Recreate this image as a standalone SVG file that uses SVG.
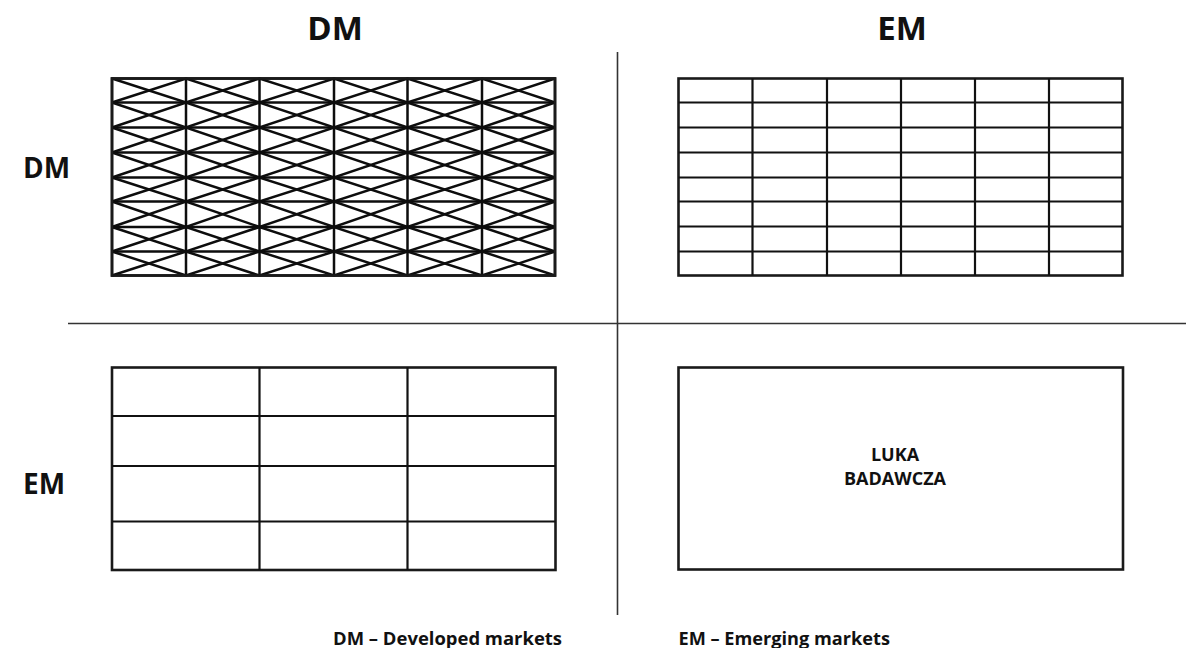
<svg xmlns="http://www.w3.org/2000/svg" width="1188" height="648" viewBox="0 0 1188 648">
  <style>
    .lbl { font-family: "Open Sans", "Liberation Sans", sans-serif; font-weight: 700; fill: #111; }
    .grid { fill: none; stroke: #111; stroke-width: 2.2; }
    .hatch { fill: none; stroke: #0d0d0d; stroke-width: 2.5; }
    .frame { fill: #fff; stroke: #1a1a1a; stroke-width: 2.6; }
    .axis { stroke: #333; stroke-width: 1.6; }
  </style>
  <rect width="1188" height="648" fill="#fff"/>

  <!-- quadrant axes -->
  <g id="axes">
    <line class="axis" x1="617.5" y1="52" x2="617.5" y2="615"/>
    <line class="axis" x1="68" y1="323.5" x2="1186" y2="323.5"/>
  </g>

  <!-- column and row headings -->
  <g id="headings">
    <text class="lbl" x="335" y="40" font-size="33" text-anchor="middle">DM</text>
    <text class="lbl" x="902" y="40" font-size="33" text-anchor="middle">EM</text>
    <text class="lbl" x="23" y="178" font-size="28">DM</text>
    <text class="lbl" x="23" y="494" font-size="28">EM</text>
  </g>

  <!-- DM x DM: dense cross-hatched grid -->
  <g id="dm-dm">
    <rect class="frame" x="112" y="78.5" width="443" height="197"/>
    <g class="hatch">
      <path d="M186 78.5V275.5M259.5 78.5V275.5M334 78.5V275.5M407.5 78.5V275.5M482 78.5V275.5"/>
      <path d="M112 102.5H555M112 127.5H555M112 152.5H555M112 177.5H555M112 201.5H555M112 227H555M112 251.5H555"/>
      <polyline points="112,78.5 186,102.5 259.5,78.5 334,102.5 407.5,78.5 482,102.5 555,78.5"/>
      <polyline points="112,102.5 186,78.5 259.5,102.5 334,78.5 407.5,102.5 482,78.5 555,102.5"/>
      <polyline points="112,102.5 186,127.5 259.5,102.5 334,127.5 407.5,102.5 482,127.5 555,102.5"/>
      <polyline points="112,127.5 186,102.5 259.5,127.5 334,102.5 407.5,127.5 482,102.5 555,127.5"/>
      <polyline points="112,127.5 186,152.5 259.5,127.5 334,152.5 407.5,127.5 482,152.5 555,127.5"/>
      <polyline points="112,152.5 186,127.5 259.5,152.5 334,127.5 407.5,152.5 482,127.5 555,152.5"/>
      <polyline points="112,152.5 186,177.5 259.5,152.5 334,177.5 407.5,152.5 482,177.5 555,152.5"/>
      <polyline points="112,177.5 186,152.5 259.5,177.5 334,152.5 407.5,177.5 482,152.5 555,177.5"/>
      <polyline points="112,177.5 186,201.5 259.5,177.5 334,201.5 407.5,177.5 482,201.5 555,177.5"/>
      <polyline points="112,201.5 186,177.5 259.5,201.5 334,177.5 407.5,201.5 482,177.5 555,201.5"/>
      <polyline points="112,201.5 186,227 259.5,201.5 334,227 407.5,201.5 482,227 555,201.5"/>
      <polyline points="112,227 186,201.5 259.5,227 334,201.5 407.5,227 482,201.5 555,227"/>
      <polyline points="112,227 186,251.5 259.5,227 334,251.5 407.5,227 482,251.5 555,227"/>
      <polyline points="112,251.5 186,227 259.5,251.5 334,227 407.5,251.5 482,227 555,251.5"/>
      <polyline points="112,251.5 186,275.5 259.5,251.5 334,275.5 407.5,251.5 482,275.5 555,251.5"/>
      <polyline points="112,275.5 186,251.5 259.5,275.5 334,251.5 407.5,275.5 482,251.5 555,275.5"/>
    </g>
    <rect x="112" y="78.5" width="443" height="197" fill="none" stroke="#1a1a1a" stroke-width="2.6"/>
  </g>

  <!-- DM x EM: plain 6 x 8 grid -->
  <g id="dm-em">
    <rect class="frame" x="678.5" y="78.5" width="444" height="197"/>
    <path class="grid" d="M752.5 78.5V275.5M827 78.5V275.5M901 78.5V275.5M975 78.5V275.5M1049 78.5V275.5"/>
    <path class="grid" d="M678.5 102.5H1122.5M678.5 127.5H1122.5M678.5 152.5H1122.5M678.5 177.5H1122.5M678.5 201.5H1122.5M678.5 226.5H1122.5M678.5 251.5H1122.5"/>
  </g>

  <!-- EM x DM: coarse 3 x 4 grid -->
  <g id="em-dm">
    <rect class="frame" x="112" y="367.5" width="443.5" height="202.5"/>
    <path class="grid" d="M259.5 367.5V570M407.5 367.5V570"/>
    <path class="grid" d="M112 416H555.5M112 466H555.5M112 521.5H555.5"/>
  </g>

  <!-- EM x EM: empty box -->
  <g id="em-em">
    <rect class="frame" x="678.5" y="367.5" width="444.5" height="202"/>
    <text class="lbl" x="895" y="461" font-size="18" text-anchor="middle">LUKA</text>
    <text class="lbl" x="895" y="485" font-size="18" text-anchor="middle">BADAWCZA</text>
  </g>

  <!-- abbreviations -->
  <g id="legend">
    <text class="lbl" x="333" y="645" font-size="17" textLength="229" lengthAdjust="spacingAndGlyphs">DM – Developed markets</text>
    <text class="lbl" x="678.5" y="645" font-size="17" textLength="211.5" lengthAdjust="spacingAndGlyphs">EM – Emerging markets</text>
  </g>
</svg>
